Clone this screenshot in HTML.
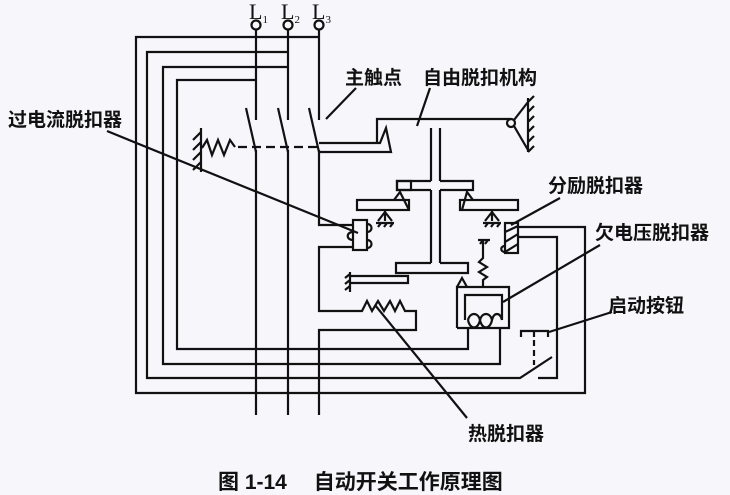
<!DOCTYPE html>
<html><head><meta charset="utf-8"><style>
html,body{margin:0;padding:0;background:#f7f7fb;}
svg{display:block}
text{font-family:"Liberation Sans","Noto Sans CJK SC",sans-serif;fill:#111;font-weight:bold;}
text.L{font-family:"Liberation Serif",serif;font-weight:normal;font-size:22px;}
text.cap{font-size:21px;}
</style></head><body>
<svg width="730" height="495" viewBox="0 0 730 495" xmlns="http://www.w3.org/2000/svg">
<g fill="none" stroke="#111" stroke-width="2.2">
<circle cx="256" cy="25" r="4.5"/><circle cx="288" cy="25" r="4.5"/><circle cx="319" cy="25" r="4.5"/>
<path d="M256 30V120M288 30V120M319 30V120"/>
<path d="M246 108L256 152M278 108L288 152M309 108L319 152"/>
<path d="M256 150V415M288 150V415"/>
<path d="M319 37H136V393H585V227H518"/>
<path d="M288 52H147V378H520L552 357"/>
<path d="M538 378H557V237H518"/>
<path d="M288 67H163V364H500V328"/>
<path d="M256 80H177V349H468V328"/>
<path d="M521 337V331H548V337M534 331V337"/>
<path d="M534 340V365" stroke-dasharray="6,4"/>
<path d="M319 150V225H353M353 247H319V311H362L367 301L372 311L378 301L384 311L390 301L395 311L400 301L405 311H416V330H319V415"/>
<rect x="353" y="220" width="14" height="30"/>
<path d="M353 232C346 232 346 240 353 240M367 224C373 224 373 232 367 232M367 240C373 240 373 248 367 248"/>
<path d="M350 276H408V283H350"/><path d="M350 272V292M350 274l-5 4M350 280l-5 4M350 286l-5 4"/>
<path d="M201 128V172M201 132l-8 8M201 142l-8 8M201 152l-8 8M201 162l-8 8"/>
<path d="M202 148L207 140L212 155L218 140L224 155L230 140L235 147"/>
<path d="M238 147H318" stroke-dasharray="9,5"/>
<path d="M319 143H380L386 128L391 152H319"/>
<path d="M377 143V119H511"/>
<circle cx="511" cy="123" r="4"/>
<path d="M514 120L528 102M514 126L528 150M528 98V152M528 102l6 -6M528 112l6 -6M528 122l6 -6M528 132l6 -6M528 142l6 -6M528 152l6 -6"/>
<path d="M431 128V181M440 128V181"/>
<path d="M431 190V263M440 190V263"/>
<path d="M431 181H397V190H431M440 181H473V190H440"/>
<rect x="397" y="181" width="14" height="9"/>
<path d="M440 263H468V273H396V263H431"/>
<rect x="357" y="200" width="52" height="10"/>
<path d="M394 200L400 192L409 210"/>
<path d="M385 210V221M385 212L378 221M385 212L392 221M376 223H394M378 227l3 -4M384 227l3 -4M390 227l3 -4"/>
<rect x="460" y="200" width="58" height="10"/>
<path d="M462 210L467 192L473 200"/>
<path d="M492 210V221M492 212L485 221M492 212L499 221M483 223H501M485 227l3 -4M491 227l3 -4M497 227l3 -4"/>
<rect x="505" y="223" width="13" height="30"/>
<path d="M505 232L518 226M505 242L518 234M505 252L518 244"/>
<path d="M505 246C500 246 500 252 505 252"/>
<path d="M478 240H490M480 244l3 -4M485 244l3 -4"/>
<path d="M483 241V258L479 262L487 267L479 272L487 277L483 280V287"/>
<path d="M457 328V287H509V328H457M465 320V295H502V320"/>
<path d="M457 287L462 278L467 287"/>
<path d="M468 320C470 312 478 312 480 320C478 330 470 330 468 320M480 320C482 312 490 312 492 320C490 330 482 330 480 320M492 320C494 312 500 312 502 320"/>
<path d="M356 88L326 119M430 88L417 126M107 131L358 233M560 198L511 225M600 245L503 302M612 312L549 332M375 305L467 418"/>
</g>
<text class="L" x="249" y="19">L<tspan style="font-size:11px" dy="4">1</tspan></text>
<text class="L" x="281" y="19">L<tspan style="font-size:11px" dy="4">2</tspan></text>
<text class="L" x="312" y="19">L<tspan style="font-size:11px" dy="4">3</tspan></text>
<g font-size="19">
<text x="345" y="84">主触点</text>
<text x="423" y="84">自由脱扣机构</text>
<text x="8" y="126">过电流脱扣器</text>
<text x="548" y="192">分励脱扣器</text>
<text x="595" y="239">欠电压脱扣器</text>
<text x="608" y="312">启动按钮</text>
<text x="468" y="440">热脱扣器</text>
<text class="cap" x="218" y="489">图 1-14　 自动开关工作原理图</text>
</g>
</svg>
</body></html>
